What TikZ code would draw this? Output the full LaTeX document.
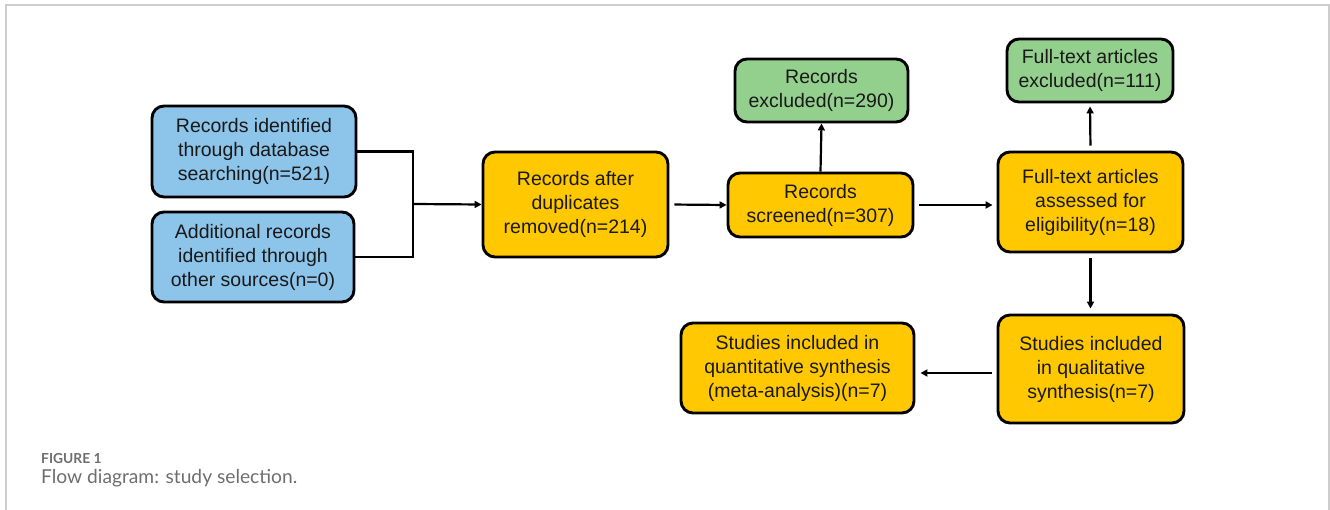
\documentclass[tikz,border=0pt]{standalone}
\usepackage{fontspec}
\setmainfont{Liberation Sans}
\newfontfamily\capfont{Lato}
\usetikzlibrary{arrows.meta}

\definecolor{boxblue}{RGB}{141,196,234}
\definecolor{boxgreen}{RGB}{147,208,141}
\definecolor{boxyellow}{RGB}{255,200,0}
\definecolor{framegray}{RGB}{205,205,205}
\definecolor{capgray}{RGB}{110,110,110}

\begin{document}
\begin{tikzpicture}[x=1pt,y=-1pt,
  flowbox/.style={draw=black, line width=2.9pt, rounded corners=12pt, align=center,
    inner sep=0pt, text=black!90, font=\fontsize{19.5}{24}\selectfont},
  flowarrow/.style={line width=2.2pt, -{Triangle[length=7pt,width=7pt]}}]

\useasboundingbox (0,0) rectangle (1330,510);
\draw [framegray, line width=1.5pt] (6,510) -- (6,5) -- (1329,5) -- (1329,510);

% identification
\node (db) at (254,151.5) [flowbox, fill=boxblue, minimum width=204, minimum height=91]
  {Records identified\\through database\\searching(n=521)};
\node (other) at (253,257) [flowbox, fill=boxblue, minimum width=202, minimum height=90]
  {Additional records\\identified through\\other sources(n=0)};

% screening
\node (dup) at (575.5,204.5) [flowbox, fill=boxyellow, minimum width=185, minimum height=105]
  {Records after\\duplicates\\removed(n=214)};
\node (scr) at (820.5,205) [flowbox, fill=boxyellow, minimum width=185, minimum height=64]
  {Records\\screened(n=307)};
\node (exc) at (821.5,90.5) [flowbox, fill=boxgreen, minimum width=173, minimum height=63]
  {Records\\excluded(n=290)};

% eligibility and inclusion
\node (full) at (1090.5,202) [flowbox, fill=boxyellow, minimum width=185, minimum height=100]
  {Full-text articles\\assessed for\\eligibility(n=18)};
\node (fexc) at (1090,70.5) [flowbox, fill=boxgreen, minimum width=166, minimum height=63]
  {Full-text articles\\excluded(n=111)};
\node (qual) at (1091,369) [flowbox, fill=boxyellow, minimum width=186, minimum height=108]
  {Studies included\\in qualitative\\synthesis(n=7)};
\node (quan) at (797.5,368) [flowbox, fill=boxyellow, minimum width=233, minimum height=90]
  {Studies included in\\quantitative synthesis\\(meta-analysis)(n=7)};

\coordinate (join) at (413,204);

\draw [line width=2.2pt] (db.east) -| (join) |- (other.east);
\draw [flowarrow] (join) -- (dup.west);
\draw [flowarrow, shorten <=5pt] (dup.east) -- (scr.west);
\draw [flowarrow] (scr.north) -- (exc.south);
\draw [flowarrow, shorten <=5pt, shorten >=4pt] (scr.east) -- (full.west |- scr.east);
\draw [flowarrow, shorten <=5pt, shorten >=3pt] (full.north) -- (fexc.south);
\draw [flowarrow, shorten <=5pt, shorten >=5pt] (full.south) -- (full.south |- qual.north);
\draw [flowarrow, shorten <=5pt, shorten >=5pt] (qual.west |- 0,373) -- (quan.east |- 0,373);

% caption
\node (figno) at (41,459) [anchor=west, inner sep=0pt, text=capgray, font=\capfont\bfseries\fontsize{13.8}{16}\selectfont] {FIGURE 1};
\node (figcap) at (41,478) [anchor=west, inner sep=0pt, text=capgray, font=\capfont\fontsize{19.2}{22}\selectfont] {Flow diagram: study selection.};

\end{tikzpicture}
\end{document}
